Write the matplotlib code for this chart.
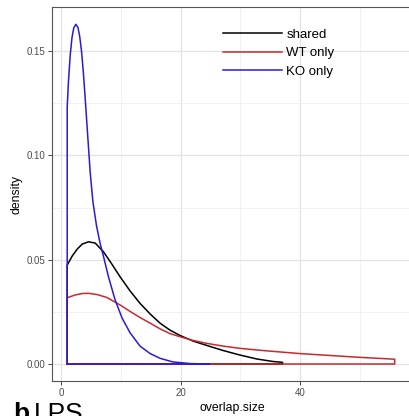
"""Density of overlap sizes (shared / WT only / KO only), ggplot theme_bw look."""

import matplotlib
matplotlib.use("Agg")
import matplotlib.pyplot as plt
import numpy as np

plt.rcParams["font.family"] = ["Liberation Sans", "DejaVu Sans"]

# curve outlines (overlap.size, density)
shared_x = [1.0, 1.84, 2.68, 3.51, 4.57, 5.69, 7.08, 8.37, 9.87, 11.55, 13.2,
            14.9, 16.6, 18.2, 19.9, 22.1, 24.4, 27.1, 29.96, 32.8, 35.5, 37.1]
shared_y = [0.0474, 0.0518, 0.0551, 0.0575, 0.0586, 0.0580, 0.0538, 0.0484,
            0.0418, 0.0350, 0.0291, 0.0240, 0.0195, 0.0163, 0.0137, 0.0110,
            0.0089, 0.0065, 0.0043, 0.0024, 0.0012, 0.0008]

wt_x = [1.0, 2.34, 3.51, 4.57, 6.03, 7.65, 9.87, 11.55, 13.2, 14.9, 16.6,
        18.2, 19.9, 22.1, 24.4, 27.1, 29.96, 33.3, 36.6, 40.0, 45.0, 50.0, 55.9]
wt_y = [0.0318, 0.0331, 0.0338, 0.0339, 0.0333, 0.0319, 0.0283, 0.0252,
        0.0223, 0.0196, 0.0168, 0.0146, 0.0131, 0.0113, 0.0099, 0.0086,
        0.0075, 0.0066, 0.0058, 0.0050, 0.0041, 0.0032, 0.0023]

ko_x = [1.0, 1.2, 1.5, 1.8, 2.1, 2.45, 2.8, 3.1, 3.4, 3.7, 4.0, 4.4, 4.85,
        5.3, 5.9, 6.5, 7.1, 7.9, 9.0, 10.2, 11.55, 13.2, 14.9, 16.6, 18.7,
        21.6, 24.9]
ko_y = [0.1232, 0.1350, 0.1480, 0.1565, 0.1612, 0.1629, 0.1614, 0.1570,
        0.1500, 0.1400, 0.1280, 0.1110, 0.0920, 0.0780, 0.0665, 0.0580,
        0.0514, 0.0420, 0.0310, 0.0220, 0.0149, 0.0086, 0.0050, 0.0027,
        0.0010, 0.0002, 0.0]

series = [
    ("shared", shared_x, shared_y, "black"),
    ("WT only", wt_x, wt_y, "#C62A2E"),
    ("KO only", ko_x, ko_y, "#2A1BD6"),
]

x_ticks = [0, 20, 40]
y_ticks = [0.00, 0.05, 0.10, 0.15]

W, H = 409, 416
fig = plt.figure(figsize=(W / 100, H / 100), dpi=100)

# panel in pixel coords: left 51.7, right 412 (runs off the figure), top 7, bottom 381
left, right, top, bottom = 51.7, 412.0, 7.0, 381.0
ax = fig.add_axes([left / W, (H - bottom) / H, (right - left) / W, (bottom - top) / H])

for label, xs, ys, col in series:
    px = np.concatenate([[xs[0]], xs, [xs[-1], xs[0]]])
    py = np.concatenate([[0.0], ys, [0.0, 0.0]])
    ax.plot(px, py, color=col, lw=1.1, label=label, solid_joinstyle="round")

ax.set_xlim(-1.6, 58.8)
ax.set_ylim(-0.00815, 0.1712)
ax.set_xticks(x_ticks)
ax.set_xticklabels([str(t) for t in x_ticks])
ax.set_yticks(y_ticks)
ax.set_yticklabels([f"{t:.2f}" for t in y_ticks])
ax.set_xticks([10, 30, 50], minor=True)
ax.set_yticks([0.025, 0.075, 0.125], minor=True)
ax.grid(True, which="major", color="#E2E2E2", lw=0.9)
ax.grid(True, which="minor", color="#EFEFEF", lw=0.6)
ax.set_axisbelow(True)
ax.tick_params(which="major", length=2.8, width=0.7, color="#444444",
               labelsize=7, labelcolor="#4D4D4D", pad=2)
ax.tick_params(which="minor", length=0)
for side in ax.spines.values():
    side.set_color("#555555")
    side.set_linewidth(0.8)

ax.set_xlabel("overlap.size", fontsize=8.8, labelpad=3)
ax.set_ylabel("density", fontsize=8.8, labelpad=3)

fig.legend(loc="upper left", bbox_to_anchor=(223 / W, 1 - 28.5 / H),
           frameon=False, fontsize=9.5, handlelength=4.5, handletextpad=0.3,
           labelspacing=0.47, borderpad=0, borderaxespad=0)

fig.text(13 / W, (H - 421) / H, "b", fontsize=19, fontweight="bold", va="baseline")
fig.text(34 / W, (H - 421) / H, "LPS", fontsize=19, va="baseline")

fig.savefig("out.png", dpi=100)
